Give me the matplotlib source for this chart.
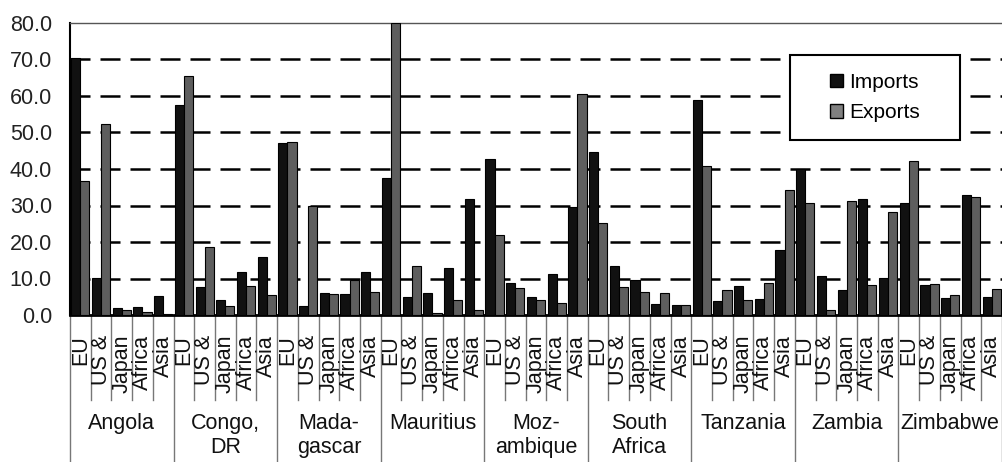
import numpy as np
import matplotlib
matplotlib.use("Agg")
import matplotlib.pyplot as plt
from matplotlib.patches import Rectangle, Patch

plt.rcParams['font.family'] = ['Liberation Sans', 'DejaVu Sans']

countries = ['Angola', 'Congo,\nDR', 'Mada-\ngascar', 'Mauritius', 'Moz-\nambique',
             'South\nAfrica', 'Tanzania', 'Zambia', 'Zimbabwe']
partners = ['EU', 'US &', 'Japan', 'Africa', 'Asia']

# shares (%) per country, in partner order EU, US &, Japan, Africa, Asia
imports = [
    [70.5, 10.1, 1.8, 2.1, 5.3],    # Angola
    [57.6, 7.6, 4.1, 11.8, 15.8],   # Congo, DR
    [47.0, 2.5, 6.0, 5.8, 11.9],    # Madagascar
    [37.5, 5.0, 6.0, 12.9, 31.9],   # Mauritius
    [42.7, 8.7, 5.0, 11.3, 29.7],   # Mozambique
    [44.6, 13.3, 9.6, 3.0, 2.8],    # South Africa
    [58.8, 3.7, 8.0, 4.4, 17.9],    # Tanzania
    [39.9, 10.7, 6.9, 31.9, 10.1],  # Zambia
    [30.8, 8.3, 4.6, 33.0, 5.0],    # Zimbabwe
]
exports = [
    [36.8, 52.3, 1.3, 0.8, 0.3],
    [65.5, 18.6, 2.5, 7.9, 5.5],
    [47.3, 29.8, 5.7, 9.6, 6.4],
    [80.0, 13.3, 0.5, 4.1, 1.4],
    [22.0, 7.3, 4.1, 3.3, 60.5],
    [25.3, 7.8, 6.4, 6.0, 2.8],
    [40.9, 6.9, 4.1, 8.7, 34.2],
    [30.6, 1.4, 31.2, 8.3, 28.2],
    [42.2, 8.5, 5.5, 32.4, 7.0],
]

imp = np.array(imports).ravel()
exp = np.array(exports).ravel()
n = len(imp)
x = np.arange(n)
npart = len(partners)

imp_col = '#111111'
exp_col = '#5e5e5e'

fig = plt.figure(figsize=(10.03, 4.62), dpi=100)
ax = fig.add_axes([70 / 1003, 1 - 315 / 462, 932 / 1003, 292 / 462])

w = 0.44
ax.bar(x - w / 2, imp, w, color=imp_col, edgecolor='black', linewidth=0.8, zorder=3, label='Imports')
ax.bar(x + w / 2, exp, w, color=exp_col, edgecolor='black', linewidth=0.8, zorder=3, label='Exports')

ax.set_xlim(-0.5, n - 0.5)
ax.set_ylim(0, 80)
ax.set_yticks(np.arange(0, 81, 10))
ax.set_yticklabels([f'{v:.1f}' for v in np.arange(0, 81, 10)], fontsize=15.5, color='#222222')
ax.tick_params(axis='y', length=0, pad=13)
ax.set_xticks([])

for yv in range(10, 80, 10):
    ax.axhline(yv, color='black', lw=1.8, linestyle=(0, (8, 4)), zorder=1)

ax.spines['right'].set_visible(False)
ax.spines['left'].set_linewidth(1.5)
ax.spines['bottom'].set_linewidth(2)
ax.spines['top'].set_linewidth(1)
ax.spines['top'].set_color('#555555')

# two-level category axis
trans = ax.get_xaxis_transform()
for i in range(n):
    ax.text(x[i], -0.068, partners[i % npart], rotation=90, ha='center', va='top',
            fontsize=15.5, transform=trans, color='#111111')
for i in range(n + 1):
    pos = i - 0.5
    bottom = -0.505 if i % npart == 0 else -0.29
    ax.plot([pos, pos], [0, bottom], transform=trans, color='#777777', lw=1, clip_on=False)
for k, name in enumerate(countries):
    cx = k * npart + (npart - 1) / 2
    ax.text(cx, -0.335, name, ha='center', va='top', fontsize=15.5, transform=trans,
            linespacing=1.2, color='#111111')

# legend with a plain frame
ax.add_patch(Rectangle((0.7725, 0.599), 0.1824, 0.291, transform=ax.transAxes,
                       facecolor='white', edgecolor='black', lw=1.5, zorder=5))
handles = [Patch(facecolor=imp_col, edgecolor='black'),
           Patch(facecolor='#808080', edgecolor='black')]
leg = ax.legend(handles, ['Imports', 'Exports'], loc='center',
                bbox_to_anchor=(0.7725 + 0.0912, 0.599 + 0.1455), frameon=False,
                fontsize=15, handlelength=0.6, handleheight=0.6, handletextpad=0.3,
                labelspacing=0.55)
leg.set_zorder(6)

fig.savefig('out.png', dpi=100)
